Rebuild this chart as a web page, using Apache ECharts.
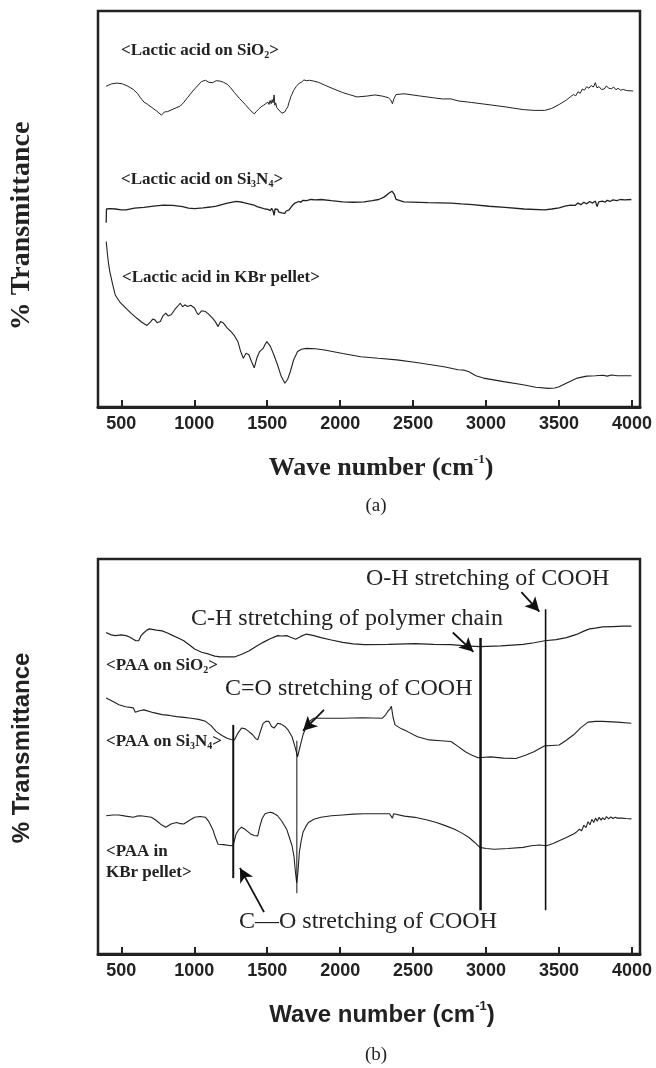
<!DOCTYPE html>
<html>
<head>
<meta charset="utf-8">
<script src="https://cdn.jsdelivr.net/npm/echarts@6/dist/echarts.min.js"></script>
<style>html,body{margin:0;padding:0;background:#fff}#c{width:656px;height:1068px}</style>
</head>
<body>
<div id="c"></div>
<script>
// ---------- DATA ----------
const tickValues = [500, 1000, 1500, 2000, 2500, 3000, 3500, 4000];

// Panel (a): lactic acid spectra  [wave number, relative transmittance]
const lacticSiO2 = [[396,81.0],[433,81.6],[470,81.8],[508,81.6],[545,81.0],[582,80.2],[610,79.2],[631,78.1],[655,77.0],[681,76.4],[710,75.6],[740,74.8],[775,73.7],[795,74.5],[817,74.6],[860,75.3],[904,76.0],[930,77.0],[953,78.1],[990,79.8],[1027,81.3],[1050,82.2],[1077,82.5],[1100,82.0],[1126,81.9],[1150,82.4],[1176,82.3],[1200,82.0],[1225,81.5],[1250,80.6],[1275,79.4],[1310,77.9],[1349,76.4],[1380,75.1],[1411,74.0],[1425,74.6],[1440,75.2],[1448,75.1],[1458,75.8],[1466,75.3],[1475,76.2],[1483,75.7],[1490,76.6],[1497,76.1],[1505,77.0],[1512,76.4],[1520,77.4],[1527,76.6],[1534,77.6],[1540,76.8],[1547,78.8],[1552,76.2],[1558,76.8],[1565,75.6],[1571,75.9],[1580,75.0],[1590,74.6],[1600,74.2],[1609,74.0],[1620,74.5],[1630,75.2],[1641,75.8],[1648,76.8],[1655,77.5],[1662,78.4],[1670,79.0],[1680,79.9],[1690,80.4],[1700,81.0],[1708,81.3],[1720,81.8],[1735,82.0],[1750,82.6],[1769,82.4],[1790,82.5],[1819,82.3],[1850,82.0],[1893,81.3],[1950,80.4],[2017,79.4],[2070,78.8],[2116,78.3],[2180,78.5],[2239,78.8],[2290,78.5],[2330,78.1],[2345,77.6],[2358,76.6],[2368,77.8],[2383,78.9],[2437,79.1],[2535,78.6],[2635,78.1],[2700,77.8],[2760,77.8],[2808,77.3],[2900,76.9],[3006,76.4],[3130,75.8],[3254,75.1],[3330,74.9],[3402,74.9],[3450,75.4],[3501,76.4],[3550,77.5],[3580,78.4],[3600,78.9],[3615,78.6],[3630,79.6],[3645,79.2],[3660,80.3],[3674,80.0],[3690,80.9],[3705,80.5],[3720,81.2],[3735,80.8],[3749,81.9],[3760,80.6],[3775,80.9],[3790,80.2],[3798,80.7],[3810,80.3],[3825,81.1],[3840,80.5],[3848,81.0],[3860,80.4],[3875,80.8],[3890,80.1],[3905,80.5],[3922,80.0],[3940,80.2],[3965,79.9],[4008,79.8]];
const lacticSi3N4 = [[396,46.5],[398,50.0],[421,50.1],[460,50.0],[500,49.8],[532,49.8],[590,50.2],[656,50.4],[720,50.7],[790,51.0],[854,50.9],[920,50.6],[960,50.2],[1002,50.1],[1060,50.3],[1110,50.5],[1151,50.7],[1220,51.4],[1287,51.9],[1330,51.7],[1374,51.3],[1410,51.0],[1430,50.6],[1440,51.0],[1448,50.4],[1458,50.9],[1466,50.2],[1475,50.7],[1485,50.0],[1495,50.5],[1505,49.9],[1515,50.3],[1522,49.6],[1530,50.2],[1540,49.5],[1547,48.4],[1553,50.0],[1560,49.5],[1571,49.9],[1580,49.2],[1590,49.6],[1600,49.0],[1610,49.5],[1620,48.9],[1630,49.5],[1641,49.1],[1650,49.8],[1660,50.3],[1670,50.8],[1680,51.0],[1690,51.5],[1700,51.3],[1715,51.9],[1730,51.7],[1745,52.2],[1769,52.1],[1800,52.4],[1830,52.3],[1868,52.4],[1940,52.1],[2017,51.8],[2090,51.7],[2165,51.8],[2220,52.1],[2264,52.4],[2300,53.0],[2338,54.1],[2355,54.5],[2363,54.8],[2372,53.6],[2383,52.4],[2437,51.8],[2600,51.6],[2759,51.5],[2830,51.3],[2907,51.1],[3020,50.7],[3130,50.4],[3260,50.0],[3402,49.8],[3450,50.0],[3501,50.3],[3540,50.7],[3580,51.0],[3610,50.9],[3630,51.5],[3650,51.1],[3670,51.7],[3690,51.3],[3710,51.9],[3730,51.5],[3749,52.0],[3761,50.6],[3772,51.8],[3785,51.5],[3798,52.0],[3815,51.7],[3830,52.2],[3850,51.9],[3870,52.3],[3895,52.1],[3920,52.4],[3950,52.3],[3996,52.4]];
const lacticKBr = [[396,41.8],[405,38.5],[413,36.0],[421,34.2],[440,31.0],[458,28.3],[490,26.5],[532,24.9],[570,23.6],[607,22.4],[640,21.4],[676,20.6],[700,21.5],[715,22.2],[730,22.0],[745,21.3],[767,21.6],[785,23.0],[805,23.7],[820,23.0],[842,23.3],[870,24.8],[904,26.2],[920,25.3],[935,25.8],[953,25.4],[975,25.7],[1002,25.0],[1015,24.0],[1027,23.3],[1050,24.3],[1077,24.1],[1100,23.4],[1126,22.4],[1145,21.5],[1163,20.3],[1180,21.6],[1200,21.2],[1225,20.0],[1250,19.1],[1275,18.0],[1299,16.5],[1318,14.0],[1336,12.3],[1355,13.6],[1374,13.2],[1392,11.5],[1411,9.9],[1430,12.5],[1448,14.0],[1460,14.5],[1472,14.8],[1485,15.8],[1497,16.5],[1510,16.0],[1522,15.3],[1545,13.2],[1571,10.6],[1595,7.8],[1621,6.0],[1640,7.0],[1658,8.9],[1680,11.8],[1708,14.0],[1735,14.6],[1769,14.8],[1830,14.7],[1893,14.4],[2017,13.5],[2141,12.7],[2260,12.3],[2388,11.9],[2510,11.3],[2635,10.6],[2720,10.1],[2808,9.4],[2850,9.3],[2883,8.9],[2930,7.9],[2982,7.3],[3120,6.4],[3254,5.6],[3340,5.0],[3427,4.7],[3470,4.8],[3501,5.1],[3560,6.2],[3625,7.3],[3690,7.8],[3749,7.9],[3800,8.0],[3830,7.8],[3860,8.1],[3900,7.9],[3950,7.9],[3996,7.9]];

// Panel (b): PAA spectra
const paaSiO2 = [[396,81.4],[430,80.8],[458,80.6],[500,80.8],[532,80.6],[560,80.2],[582,79.7],[600,79.3],[619,79.3],[635,80.6],[656,81.4],[675,82.0],[693,82.3],[740,82.0],[780,81.8],[820,81.2],[854,80.6],[890,80.0],[928,79.3],[965,78.3],[1002,77.2],[1050,76.4],[1101,75.9],[1140,75.4],[1176,75.2],[1230,75.2],[1275,75.2],[1325,75.9],[1374,76.7],[1420,77.8],[1472,78.9],[1520,79.8],[1571,80.6],[1600,80.5],[1633,80.6],[1660,80.2],[1695,79.7],[1730,80.4],[1769,81.0],[1820,80.6],[1868,80.1],[1940,79.5],[2017,78.9],[2090,78.5],[2165,78.3],[2330,78.4],[2512,78.6],[2640,78.4],[2759,78.3],[2860,78.0],[2957,77.8],[3100,78.0],[3254,78.4],[3330,78.8],[3402,79.3],[3480,79.6],[3551,80.1],[3620,80.9],[3674,81.8],[3710,82.3],[3749,82.5],[3800,82.8],[3870,82.9],[3940,83.0],[3996,83.0]];
const paaSi3N4 = [[396,64.8],[440,64.0],[483,63.1],[530,62.6],[582,62.3],[596,61.2],[607,61.0],[625,61.6],[656,61.8],[720,61.1],[780,60.6],[830,60.4],[879,60.1],[930,59.9],[978,59.7],[1030,59.4],[1077,58.9],[1115,57.8],[1151,56.3],[1190,55.3],[1225,54.6],[1250,54.3],[1275,54.2],[1300,56.0],[1324,57.2],[1350,57.0],[1374,56.3],[1400,55.5],[1420,54.6],[1435,54.2],[1450,56.0],[1472,58.4],[1490,58.9],[1510,58.9],[1530,57.6],[1547,57.2],[1560,57.8],[1571,58.4],[1595,58.2],[1621,57.6],[1645,56.6],[1670,55.0],[1690,52.5],[1708,49.9],[1725,52.5],[1745,55.5],[1780,58.6],[1819,59.7],[1920,59.7],[2017,59.7],[2150,59.8],[2289,59.7],[2310,60.5],[2326,61.4],[2340,62.0],[2351,62.7],[2362,60.0],[2376,58.0],[2420,57.0],[2462,56.3],[2530,55.0],[2610,54.2],[2690,54.0],[2759,53.8],[2810,52.5],[2858,51.2],[2900,50.4],[2945,49.7],[3031,49.9],[3120,49.6],[3204,49.5],[3270,50.3],[3328,51.2],[3370,52.1],[3402,52.7],[3450,52.8],[3501,52.9],[3550,54.1],[3600,55.5],[3650,57.3],[3699,58.7],[3750,58.9],[3798,58.9],[3900,58.7],[3996,58.4]];
const paaKBr = [[396,35.0],[440,35.2],[483,35.2],[530,34.9],[582,34.6],[605,34.9],[631,35.0],[670,34.8],[706,34.6],[740,33.8],[775,32.7],[805,32.1],[840,32.9],[879,33.3],[905,33.0],[928,32.9],[965,33.8],[1002,34.6],[1040,34.8],[1077,34.6],[1100,33.5],[1126,31.6],[1145,29.5],[1163,27.8],[1200,27.7],[1250,27.4],[1267,27.6],[1287,30.4],[1305,31.5],[1324,32.1],[1350,31.5],[1386,30.4],[1410,30.0],[1435,29.9],[1448,32.1],[1465,34.3],[1485,35.5],[1500,35.7],[1510,35.9],[1522,35.9],[1545,35.6],[1571,35.0],[1600,33.6],[1633,31.6],[1652,29.5],[1670,27.4],[1683,24.8],[1694,20.5],[1702,18.0],[1710,20.5],[1720,25.7],[1732,28.5],[1745,30.8],[1765,32.3],[1782,33.3],[1820,34.1],[1868,34.6],[1940,35.0],[2017,35.2],[2090,35.4],[2165,35.5],[2250,35.5],[2338,35.5],[2350,35.0],[2358,34.4],[2366,35.5],[2376,35.2],[2440,34.9],[2512,34.6],[2590,34.0],[2660,33.3],[2720,32.5],[2784,31.6],[2835,30.6],[2883,29.5],[2920,28.3],[2957,27.0],[3000,26.7],[3056,26.5],[3150,26.7],[3254,27.0],[3310,27.4],[3365,27.6],[3414,27.4],[3460,28.0],[3501,28.7],[3550,29.5],[3600,30.4],[3620,30.9],[3640,31.6],[3655,31.2],[3670,32.6],[3685,32.0],[3699,33.5],[3712,32.7],[3725,34.1],[3738,33.3],[3750,34.4],[3762,33.6],[3775,34.6],[3788,33.9],[3798,34.5],[3812,34.0],[3825,34.8],[3840,34.2],[3855,34.7],[3870,34.3],[3885,34.6],[3900,34.4],[3930,34.4],[3960,34.3],[3996,34.2]];

// Vertical band markers in panel (b)
const markerX = [1267, 1703, 2962, 3408];
const markerTop = [58, 54, 80, 87.3];
const markerBottom = [19.2, 15.4, 11.1, 11.1];
// Arrows in panel (b): O-H, C-H, C=O, C-O
const arrowFrom = [[3242, 91.6], [2772, 81.4], [1889, 61.8], [1478, 10.6]];
const arrowTo = [[3365, 86.7], [2913, 76.5], [1745, 56.5], [1313, 21.8]];

// ---------- CHART ----------
const chart = echarts.init(document.getElementById('c'), null, {renderer: 'canvas'});
const INK = '#222';
const SERIF = '"Liberation Serif","Times New Roman",serif';
const SANS = '"Liberation Sans",Arial,sans-serif';

function xAx(gi) {
  return {
    gridIndex: gi, type: 'value', min: 340, max: 4055,
    axisLine: {show: true, lineStyle: {color: INK, width: 3}},
    axisTick: {show: true, inside: true, length: 7, customValues: tickValues, lineStyle: {color: INK, width: 2}},
    axisLabel: {show: true, customValues: tickValues, margin: 8, color: INK, fontFamily: SANS, fontWeight: 'bold', fontSize: 18,
      formatter: v => String(Math.round(v))},
    splitLine: {show: false}
  };
}
function yAx(gi) {
  return {gridIndex: gi, type: 'value', min: 0, max: 100, show: false};
}
function curve(data, gi, w) {
  return {type: 'line', xAxisIndex: gi, yAxisIndex: gi, data: data, showSymbol: false, symbol: 'none',
    lineStyle: {color: INK, width: w}, silent: true, animation: false, z: 3};
}

const series = [
  curve(lacticSiO2, 0, 1),
  curve(lacticSi3N4, 0, 1.3),
  curve(lacticKBr, 0, 1.1),
  curve(paaSiO2, 1, 1.2),
  curve(paaSi3N4, 1, 1.1),
  curve(paaKBr, 1, 1.1)
];
const markerWidths = [2, 1, 2.5, 1.6];
markerX.forEach((x, i) => {
  series.push({type: 'line', xAxisIndex: 1, yAxisIndex: 1, showSymbol: false, symbol: 'none', silent: true, animation: false,
    data: [[x, markerBottom[i]], [x, markerTop[i]]], lineStyle: {color: '#111', width: markerWidths[i]}, z: 4});
});
series.push({
  type: 'line', xAxisIndex: 1, yAxisIndex: 1, data: [], silent: true, animation: false,
  markLine: {
    silent: true, animation: false, symbol: ['none', 'arrow'], symbolSize: [11, 14],
    label: {show: false},
    lineStyle: {color: '#111', width: 1.8, type: 'solid'},
    data: arrowFrom.map((f, i) => [{coord: f}, {coord: arrowTo[i]}])
  }
});

const lab = {fontFamily: SERIF, fontWeight: 'bold', fontSize: 17, lineHeight: 20, fill: INK};
const sub = {fontFamily: SERIF, fontWeight: 'bold', fontSize: 10, lineHeight: 8, verticalAlign: 'bottom', fill: INK};
function richText(x, y, text) {
  return {type: 'text', left: x, top: y - 9, silent: true,
    style: {text: text, fill: INK, font: 'bold 17px ' + SERIF, rich: {n: lab, s: sub}}};
}

const graphics = [
  richText(121, 51, '{n|<Lactic acid on SiO}{s|2}{n|>}'),
  richText(121, 180, '{n|<Lactic acid on Si}{s|3}{n|N}{s|4}{n|>}'),
  richText(122, 278, '{n|<Lactic acid in KBr pellet>}'),
  richText(106, 666, '{n|<PAA on SiO}{s|2}{n|>}'),
  richText(106, 742, '{n|<PAA on Si}{s|3}{n|N}{s|4}{n|>}'),
  richText(106, 852, '{n|<PAA in}'),
  richText(106, 873, '{n|KBr pellet>}'),
  {type: 'text', left: 366, top: 567, silent: true, style: {text: 'O-H stretching of COOH', fill: INK, font: '24px ' + SERIF}},
  {type: 'text', left: 191, top: 607, silent: true, style: {text: 'C-H stretching of polymer chain', fill: INK, font: '24px ' + SERIF}},
  {type: 'text', left: 225, top: 677, silent: true, style: {text: 'C=O stretching of COOH', fill: INK, font: '24px ' + SERIF}},
  {type: 'text', left: 239, top: 910, silent: true, style: {text: 'C\u2014O stretching of COOH', fill: INK, font: '24px ' + SERIF}},
  // axis titles
  {type: 'text', x: 381, y: 468, silent: true, style: {text: '{t|Wave number (cm}{p|-1}{t|)}', align: 'center', verticalAlign: 'middle',
    rich: {t: {fontFamily: SERIF, fontWeight: 'bold', fontSize: 26, lineHeight: 30, fill: INK},
           p: {fontFamily: SERIF, fontWeight: 'bold', fontSize: 13, lineHeight: 14, verticalAlign: 'top', fill: INK}}}},
  {type: 'text', x: 382, y: 1015, silent: true, style: {text: '{t|Wave number (cm}{p|-1}{t|)}', align: 'center', verticalAlign: 'middle',
    rich: {t: {fontFamily: SANS, fontWeight: 'bold', fontSize: 24, lineHeight: 30, fill: INK},
           p: {fontFamily: SANS, fontWeight: 'bold', fontSize: 13, lineHeight: 14, verticalAlign: 'top', fill: INK}}}},
  {type: 'text', x: 376, y: 506, silent: true, style: {text: '(a)', align: 'center', verticalAlign: 'middle', fill: INK, font: '19px ' + SERIF}},
  {type: 'text', x: 376, y: 1055, silent: true, style: {text: '(b)', align: 'center', verticalAlign: 'middle', fill: INK, font: '19px ' + SERIF}},
  {type: 'text', x: 22, y: 226, rotation: Math.PI / 2, silent: true, style: {text: '% Transmittance', align: 'center', verticalAlign: 'middle', fill: INK, font: 'bold 28px ' + SERIF}},
  {type: 'text', x: 22, y: 748, rotation: Math.PI / 2, silent: true, style: {text: '% Transmittance', align: 'center', verticalAlign: 'middle', fill: INK, font: 'bold 24px ' + SANS}}
];

chart.setOption({
  backgroundColor: '#fff',
  animation: false,
  grid: [
    {left: 98, top: 11, width: 542, height: 396, show: true, borderColor: INK, borderWidth: 2.5, backgroundColor: 'transparent'},
    {left: 98, top: 559, width: 542, height: 395, show: true, borderColor: INK, borderWidth: 2.5, backgroundColor: 'transparent'}
  ],
  xAxis: [xAx(0), xAx(1)],
  yAxis: [yAx(0), yAx(1)],
  series: series,
  graphic: graphics
});
</script>
</body>
</html>
